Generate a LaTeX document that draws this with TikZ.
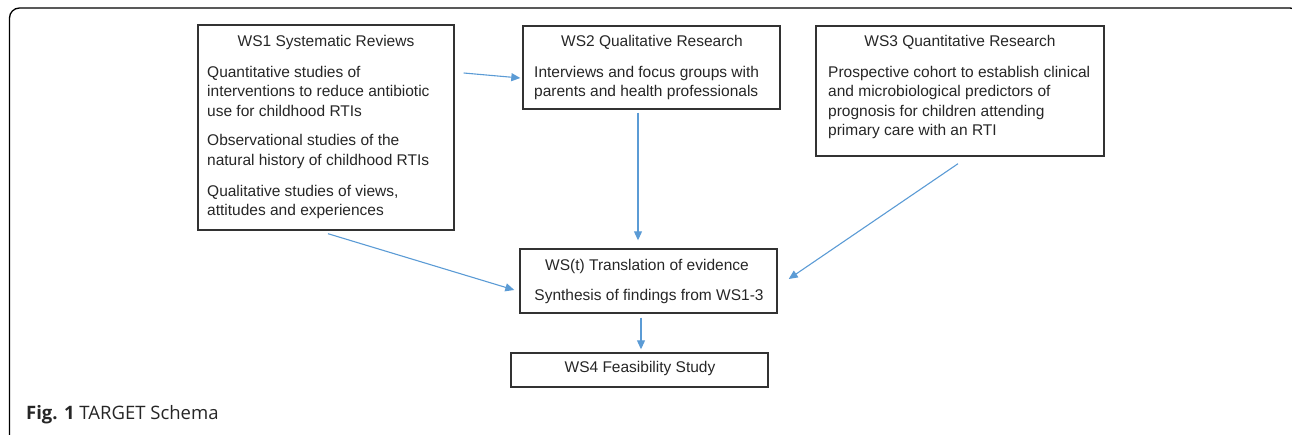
\documentclass[tikz,border=0pt]{standalone}
\usepackage{fontspec}
\setmainfont{Liberation Sans}
\newfontfamily\capfont{Open Sans}
\usetikzlibrary{arrows.meta}
\definecolor{arrowblue}{RGB}{91,155,213}
\definecolor{boxline}{RGB}{50,50,50}
\tikzset{
  wsbox/.style={draw=boxline, line width=1.4pt, minimum width=#1, inner sep=0pt},
  txt/.style={anchor=base west, inner sep=0pt, font=\fontsize{15.5}{19.5}\selectfont, text=black!85},
  ttl/.style={anchor=base, inner sep=0pt, font=\fontsize{15.5}{19.5}\selectfont, text=black!85},
  flow/.style={draw=arrowblue, line width=1.1pt, -{Triangle[length=9pt,width=8pt]}}
}
\begin{document}
\begin{tikzpicture}[x=1pt,y=-1pt]
\useasboundingbox (0,0) rectangle (1292,434);
\begin{scope}
\clip (0,0) rectangle (1292,434);
\draw[line width=1.3pt, rounded corners=10pt] (9.5,8) rectangle (1300,445);
\end{scope}
% boxes
\node[wsbox=256pt, minimum height=205pt] (ws1) at (326,127.5) {};
\node[wsbox=257pt, minimum height=83pt] (ws2) at (651.5,67.5) {};
\node[wsbox=288pt, minimum height=130pt] (ws3) at (960,91) {};
\node[wsbox=257pt, minimum height=64pt] (wst) at (648.5,281) {};
\node[wsbox=257pt, minimum height=34pt] (ws4) at (639.5,370) {};
% WS1 text
\node[ttl] (t1) at (326,46) {WS1 Systematic Reviews};
\node[txt] (t1a) at (207,77) {Quantitative studies of};
\node[txt] (t1b) at (207,96.5) {interventions to reduce antibiotic};
\node[txt] (t1c) at (207,116) {use for childhood RTIs};
\node[txt] (t1d) at (207,145.5) {Observational studies of the};
\node[txt] (t1e) at (207,165) {natural history of childhood RTIs};
\node[txt] (t1f) at (207,196) {Qualitative studies of views,};
\node[txt] (t1g) at (207,215.5) {attitudes and experiences};
% WS2 text
\node[ttl] (t2) at (652,46) {WS2 Qualitative Research};
\node[txt] (t2a) at (534,77) {Interviews and focus groups with};
\node[txt] (t2b) at (534,96.5) {parents and health professionals};
% WS3 text
\node[ttl] (t3) at (960,46) {WS3 Quantitative Research};
\node[txt] (t3a) at (828,77) {Prospective cohort to establish clinical};
\node[txt] (t3b) at (828,96.5) {and microbiological predictors of};
\node[txt] (t3c) at (828,116) {prognosis for children attending};
\node[txt] (t3d) at (828,135.5) {primary care with an RTI};
% WS(t)
\node[ttl] (tt1) at (647,270) {WS(t) Translation of evidence};
\node[ttl] (tt2) at (649,300) {Synthesis of findings from WS1-3};
% WS4
\node[ttl] (t4) at (640,372) {WS4 Feasibility Study};
% arrows
\draw[flow] ([shift={(9,-54.5)}]ws1.east) -- ([shift={(-2,10.5)}]ws2.west);
\draw[flow] ([shift={(-13.5,3)}]ws2.south) -- ([shift={(-10.5,-8)}]wst.north);
\draw[flow] ([shift={(2,3)}]ws1.south) -- ([shift={(-5,9)}]wst.west);
\draw[flow] ([shift={(-2,7)}]ws3.south) -- ([shift={(11,-2)}]wst.east);
\draw[flow] ([shift={(-7.5,4)}]wst.south) -- ([shift={(1.5,-3)}]ws4.north);
% caption
\node[anchor=base west, inner sep=0pt, font=\capfont\fontsize{18.5}{22}\selectfont, text=black!85] (cap) at (26,419) {\textbf{Fig. 1} TARGET Schema};
\end{tikzpicture}
\end{document}
